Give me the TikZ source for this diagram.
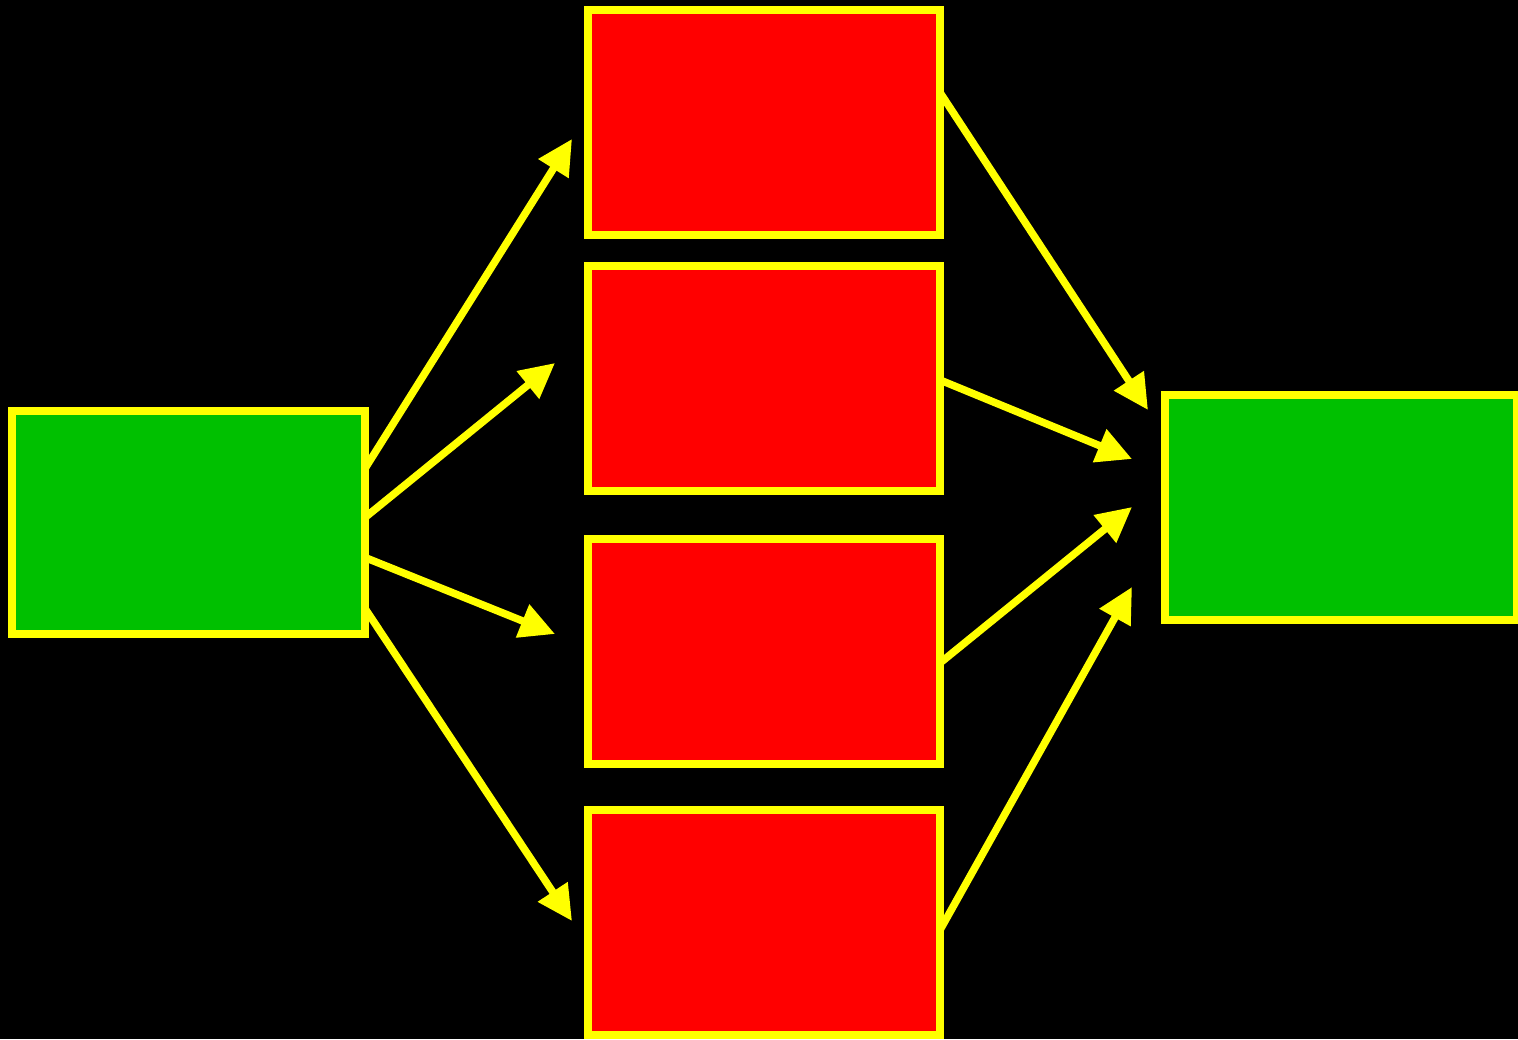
\documentclass[tikz,border=0pt]{standalone}
\usetikzlibrary{arrows.meta}
\definecolor{boxgreen}{RGB}{0,192,0}
\definecolor{boxred}{RGB}{255,0,0}
\definecolor{edgeyellow}{RGB}{255,255,0}
\begin{document}
\begin{tikzpicture}[x=1pt,y=-1pt,
  box/.style={draw=edgeyellow, line width=8pt, minimum width=352pt, minimum height=225pt, inner sep=0pt, outer sep=0pt},
  gbox/.style={box, fill=boxgreen},
  rbox/.style={box, fill=boxred},
  conn/.style={draw=edgeyellow, line width=7.5pt, -{Triangle[length=35pt,width=34pt]}}]
\fill[black] (0,0) rectangle (1518,1039);
\useasboundingbox (0,0) rectangle (1518,1039);
\node[gbox, minimum width=353pt, minimum height=223pt] (L) at (188.5,522.5) {};
\node[rbox] (R1) at (764,122.5) {};
\node[rbox] (R2) at (764,378.5) {};
\node[rbox] (R3) at (764,651) {};
\node[rbox] (R4) at (764,922.5) {};
\node[gbox, minimum width=352pt] (G) at (1341,507.5) {};
\coordinate (a1) at (572,139);
\coordinate (a2) at (555,363);
\coordinate (a3) at (555,634);
\coordinate (a4) at (572,921);
\coordinate (b1) at (1148,410);
\coordinate (b2) at (1132,459);
\coordinate (b3) at (1132,507);
\coordinate (b4) at (1132,587);
\draw[conn] ([yshift=54pt]L.east) -- (a1);
\draw[conn] ([yshift=5pt]L.east) -- (a2);
\draw[conn] ([yshift=-35pt]L.east) -- (a3);
\draw[conn] ([yshift=-86pt]L.east) -- (a4);
\draw[conn] ([yshift=30pt]R1.east) -- (b1);
\draw[conn] ([yshift=-1.5pt]R2.east) -- (b2);
\draw[conn] ([yshift=-12pt]R3.east) -- (b3);
\draw[conn] ([yshift=-7.5pt]R4.east) -- (b4);
\end{tikzpicture}
\end{document}
